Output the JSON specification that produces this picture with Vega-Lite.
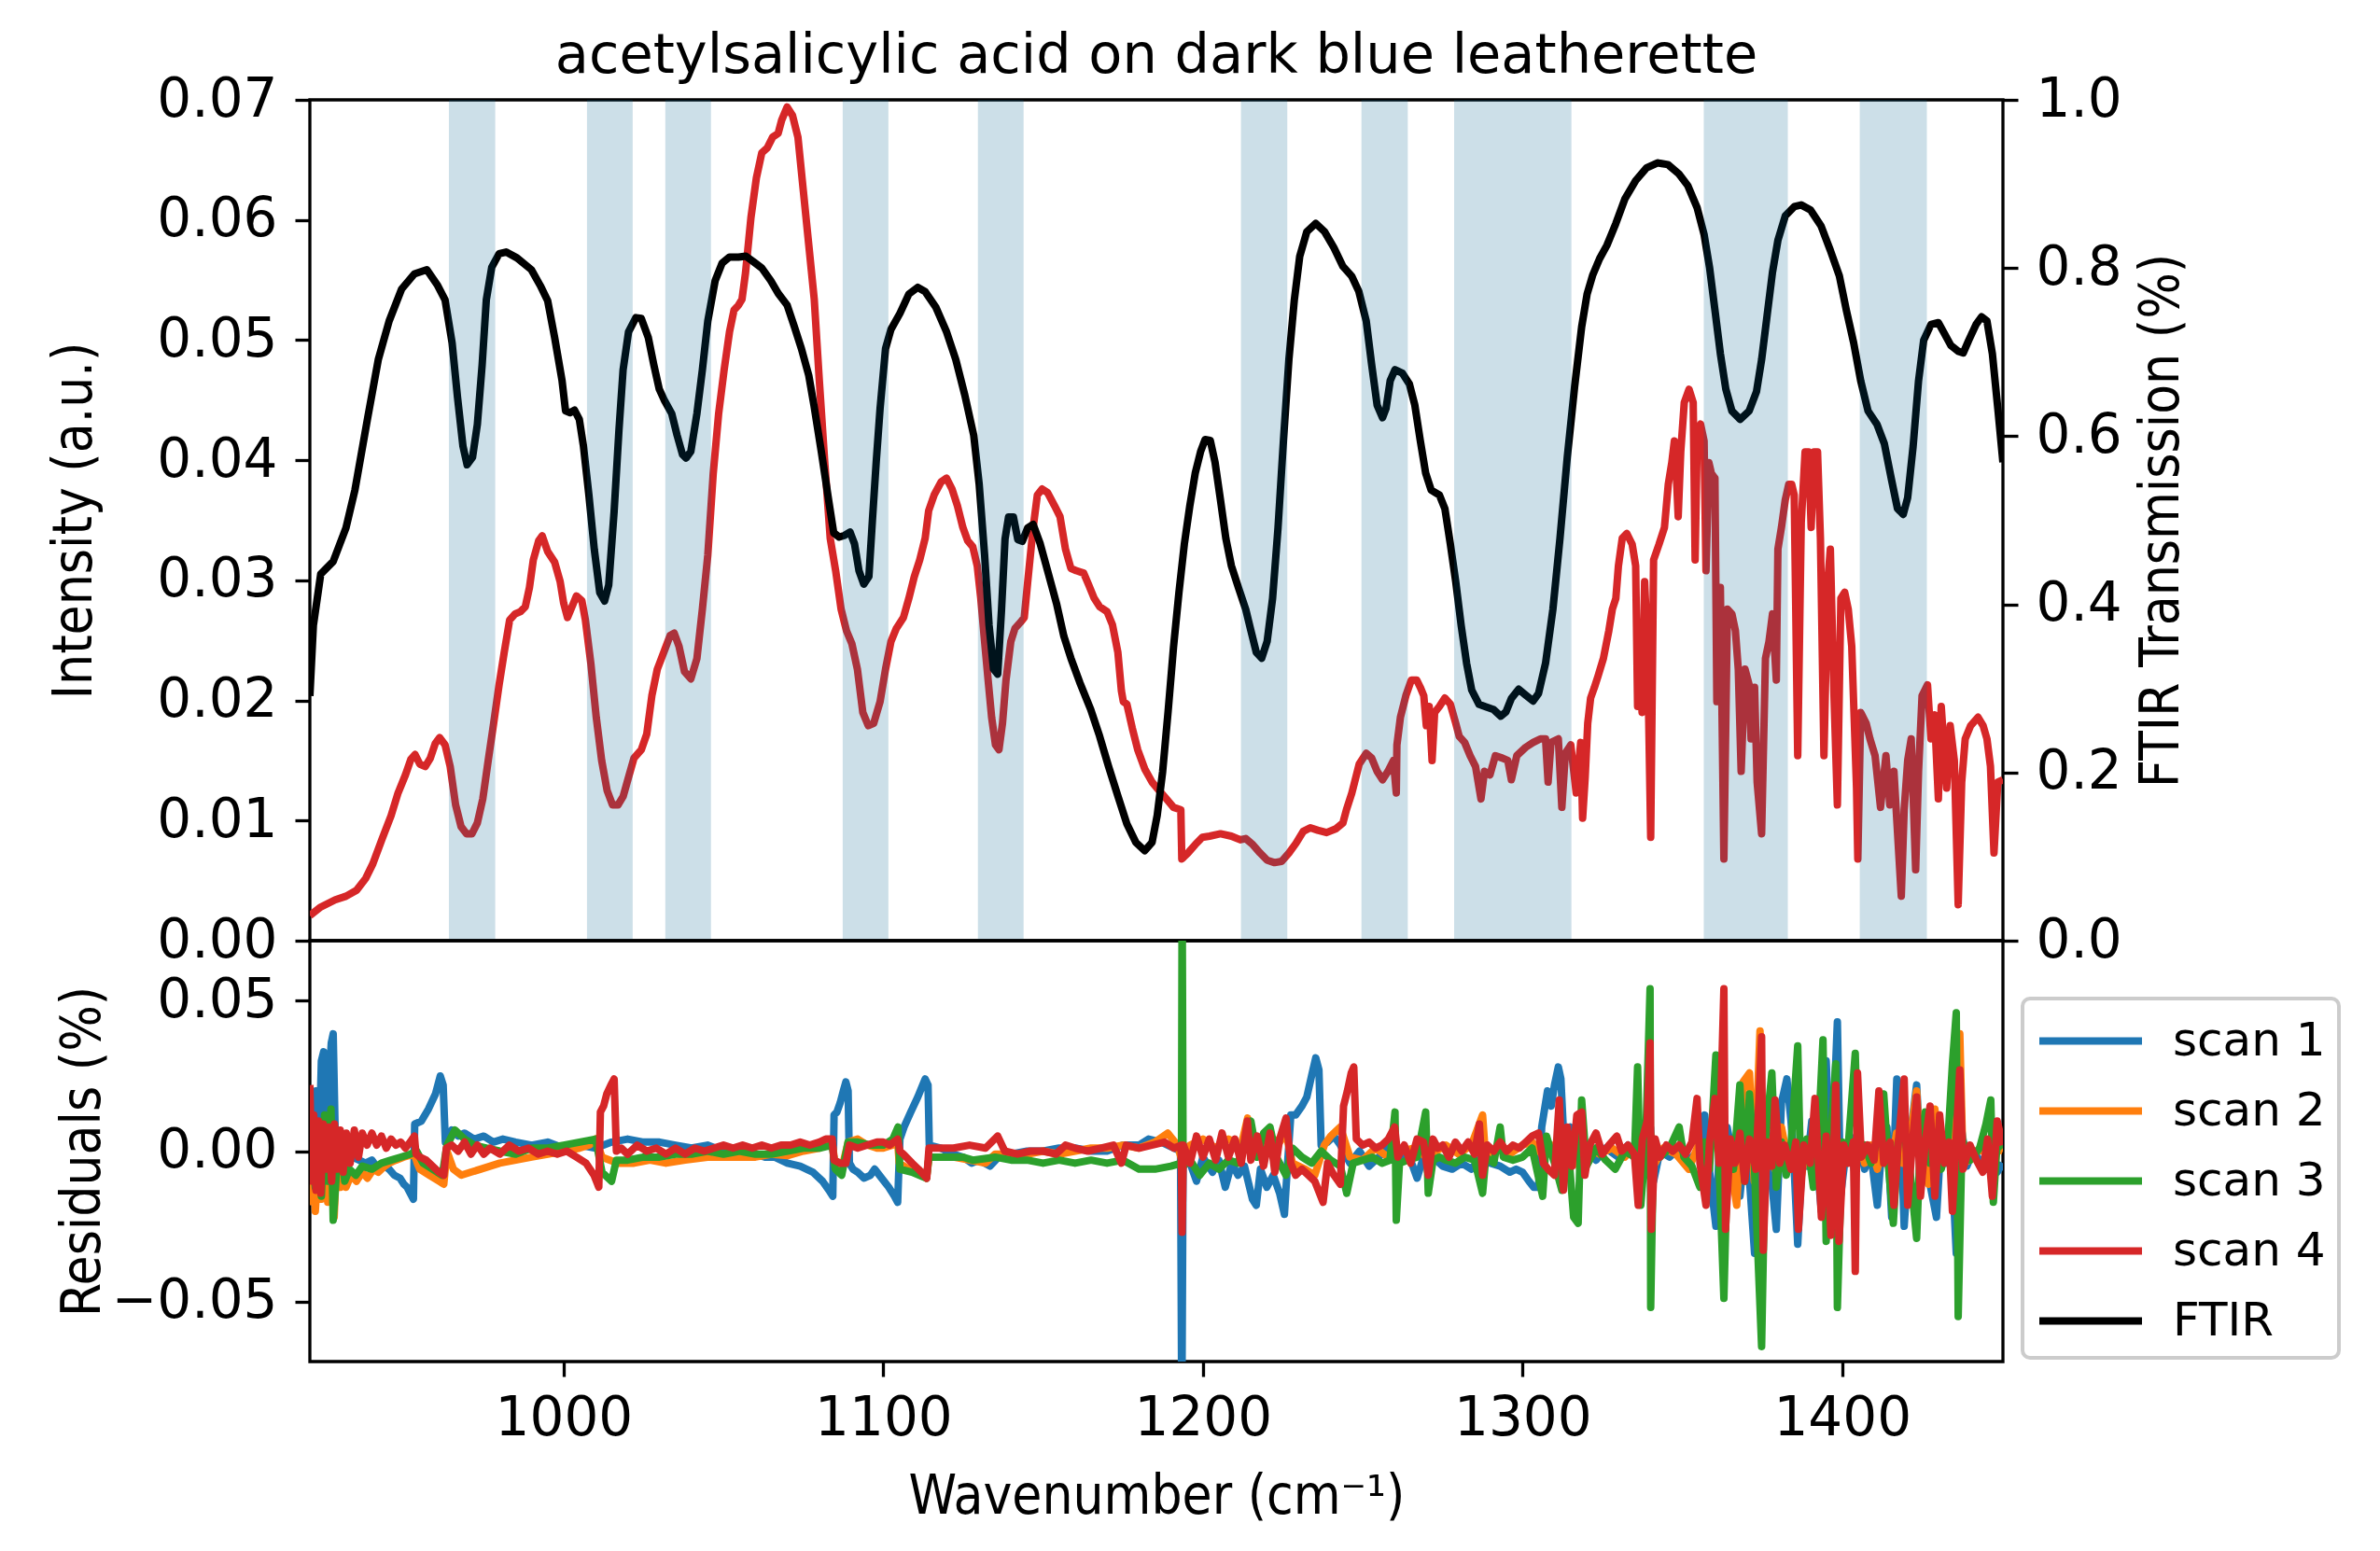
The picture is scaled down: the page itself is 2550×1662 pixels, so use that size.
{
"$schema":"https://vega.github.io/schema/vega-lite/v6.json",
"background":"white",
"padding":{"left":50,"top":29,"right":5,"bottom":5},
"bounds":"flush",
"spacing":0,
"config":{
 "font":"DejaVu Sans",
 "view":{"stroke":"black","strokeWidth":3.3},
 "axis":{"domain":false,"grid":false,"ticks":true,"tickSize":16,"tickWidth":3.3,"tickColor":"black","labelFont":"DejaVu Sans","labelFontSize":58,"labelColor":"black","labelPadding":19,"titleFont":"DejaVu Sans Condensed, DejaVu Sans","titleFontSize":58,"titleFontWeight":"normal","titleColor":"black","labelOverlap":false},
 "axisBottom":{"labelPadding":16,"titlePadding":26},
 "legend":{"strokeWidth":4},
 "line":{"strokeJoin":"round"}
},
"datasets":{
"bands":[{"a":964.1,"b":978.6},{"a":1007.3,"b":1021.6},{"a":1031.8,"b":1046.1},{"a":1087.3,"b":1101.6},{"a":1129.6,"b":1143.9},{"a":1211.9,"b":1226.4},{"a":1249.6,"b":1264.1},{"a":1278.6,"b":1315.3},{"a":1356.7,"b":1383.0},{"a":1405.5,"b":1426.5}],
"ftir":[{"w":920.6,"t":0.291},{"w":921.7,"t":0.375},{"w":924.0,"t":0.436},{"w":927.9,"t":0.451},{"w":931.9,"t":0.491},{"w":934.7,"t":0.536},{"w":938.6,"t":0.62},{"w":942.0,"t":0.691},{"w":945.4,"t":0.737},{"w":949.3,"t":0.775},{"w":953.3,"t":0.793},{"w":957.2,"t":0.798},{"w":960.6,"t":0.779},{"w":962.9,"t":0.762},{"w":965.1,"t":0.711},{"w":966.8,"t":0.646},{"w":968.5,"t":0.588},{"w":969.8,"t":0.566},{"w":971.5,"t":0.575},{"w":973.0,"t":0.614},{"w":974.5,"t":0.685},{"w":975.8,"t":0.762},{"w":977.5,"t":0.801},{"w":979.8,"t":0.817},{"w":982.0,"t":0.819},{"w":985.4,"t":0.812},{"w":989.9,"t":0.798},{"w":992.7,"t":0.779},{"w":995.0,"t":0.761},{"w":997.2,"t":0.717},{"w":999.5,"t":0.666},{"w":1000.6,"t":0.63},{"w":1002.0,"t":0.628},{"w":1003.4,"t":0.631},{"w":1004.9,"t":0.62},{"w":1006.2,"t":0.588},{"w":1007.9,"t":0.53},{"w":1009.6,"t":0.465},{"w":1011.3,"t":0.414},{"w":1012.8,"t":0.404},{"w":1014.1,"t":0.423},{"w":1015.8,"t":0.511},{"w":1017.3,"t":0.607},{"w":1018.6,"t":0.679},{"w":1020.3,"t":0.724},{"w":1022.6,"t":0.741},{"w":1024.3,"t":0.74},{"w":1026.5,"t":0.717},{"w":1028.2,"t":0.685},{"w":1029.9,"t":0.656},{"w":1031.6,"t":0.642},{"w":1033.8,"t":0.627},{"w":1035.5,"t":0.601},{"w":1037.2,"t":0.578},{"w":1038.3,"t":0.574},{"w":1039.8,"t":0.582},{"w":1041.7,"t":0.627},{"w":1043.4,"t":0.679},{"w":1045.1,"t":0.737},{"w":1047.4,"t":0.785},{"w":1049.6,"t":0.806},{"w":1051.9,"t":0.813},{"w":1054.7,"t":0.813},{"w":1057.0,"t":0.814},{"w":1059.2,"t":0.808},{"w":1062.0,"t":0.8},{"w":1064.8,"t":0.785},{"w":1067.1,"t":0.77},{"w":1069.9,"t":0.756},{"w":1072.2,"t":0.73},{"w":1074.4,"t":0.704},{"w":1076.7,"t":0.672},{"w":1078.3,"t":0.637},{"w":1080.6,"t":0.582},{"w":1082.9,"t":0.524},{"w":1084.5,"t":0.485},{"w":1086.2,"t":0.48},{"w":1087.9,"t":0.482},{"w":1089.6,"t":0.486},{"w":1091.0,"t":0.472},{"w":1092.4,"t":0.44},{"w":1093.9,"t":0.424},{"w":1095.5,"t":0.433},{"w":1096.6,"t":0.5},{"w":1097.8,"t":0.57},{"w":1099.0,"t":0.633},{"w":1100.7,"t":0.704},{"w":1102.4,"t":0.727},{"w":1105.2,"t":0.746},{"w":1108.0,"t":0.769},{"w":1110.8,"t":0.777},{"w":1113.1,"t":0.772},{"w":1116.5,"t":0.753},{"w":1119.8,"t":0.724},{"w":1122.7,"t":0.691},{"w":1125.5,"t":0.649},{"w":1128.3,"t":0.601},{"w":1130.0,"t":0.543},{"w":1131.7,"t":0.459},{"w":1133.1,"t":0.375},{"w":1134.5,"t":0.323},{"w":1135.8,"t":0.317},{"w":1137.0,"t":0.394},{"w":1138.1,"t":0.478},{"w":1139.2,"t":0.504},{"w":1140.7,"t":0.504},{"w":1142.1,"t":0.477},{"w":1143.5,"t":0.475},{"w":1145.2,"t":0.491},{"w":1146.9,"t":0.495},{"w":1149.1,"t":0.472},{"w":1151.4,"t":0.44},{"w":1154.2,"t":0.401},{"w":1156.5,"t":0.362},{"w":1158.7,"t":0.336},{"w":1161.5,"t":0.307},{"w":1164.9,"t":0.275},{"w":1167.7,"t":0.243},{"w":1170.5,"t":0.207},{"w":1173.4,"t":0.172},{"w":1176.2,"t":0.139},{"w":1179.0,"t":0.117},{"w":1181.8,"t":0.107},{"w":1184.1,"t":0.117},{"w":1185.7,"t":0.149},{"w":1187.4,"t":0.201},{"w":1189.1,"t":0.272},{"w":1190.8,"t":0.349},{"w":1192.5,"t":0.414},{"w":1194.2,"t":0.472},{"w":1195.9,"t":0.517},{"w":1197.6,"t":0.556},{"w":1199.3,"t":0.582},{"w":1200.7,"t":0.596},{"w":1202.3,"t":0.595},{"w":1203.8,"t":0.569},{"w":1205.5,"t":0.524},{"w":1207.2,"t":0.478},{"w":1208.9,"t":0.446},{"w":1211.1,"t":0.42},{"w":1213.4,"t":0.394},{"w":1215.0,"t":0.369},{"w":1216.7,"t":0.343},{"w":1218.4,"t":0.336},{"w":1220.1,"t":0.356},{"w":1221.8,"t":0.407},{"w":1223.5,"t":0.491},{"w":1225.2,"t":0.595},{"w":1226.9,"t":0.691},{"w":1228.6,"t":0.762},{"w":1230.3,"t":0.814},{"w":1232.5,"t":0.843},{"w":1235.3,"t":0.853},{"w":1238.1,"t":0.843},{"w":1241.0,"t":0.824},{"w":1243.8,"t":0.802},{"w":1246.6,"t":0.79},{"w":1248.8,"t":0.772},{"w":1251.1,"t":0.737},{"w":1252.8,"t":0.685},{"w":1254.5,"t":0.637},{"w":1256.2,"t":0.622},{"w":1257.3,"t":0.633},{"w":1258.6,"t":0.666},{"w":1260.1,"t":0.679},{"w":1262.4,"t":0.675},{"w":1264.6,"t":0.662},{"w":1266.3,"t":0.637},{"w":1268.0,"t":0.595},{"w":1269.7,"t":0.556},{"w":1271.4,"t":0.536},{"w":1274.0,"t":0.53},{"w":1275.7,"t":0.514},{"w":1277.4,"t":0.472},{"w":1279.1,"t":0.427},{"w":1280.8,"t":0.375},{"w":1282.5,"t":0.33},{"w":1284.1,"t":0.298},{"w":1286.4,"t":0.281},{"w":1288.6,"t":0.278},{"w":1290.9,"t":0.275},{"w":1293.2,"t":0.267},{"w":1294.8,"t":0.272},{"w":1296.5,"t":0.288},{"w":1298.8,"t":0.299},{"w":1301.0,"t":0.292},{"w":1303.3,"t":0.285},{"w":1305.0,"t":0.294},{"w":1307.2,"t":0.33},{"w":1309.5,"t":0.394},{"w":1311.7,"t":0.478},{"w":1314.0,"t":0.575},{"w":1316.3,"t":0.659},{"w":1318.5,"t":0.73},{"w":1320.2,"t":0.769},{"w":1321.9,"t":0.791},{"w":1324.1,"t":0.811},{"w":1326.4,"t":0.827},{"w":1329.2,"t":0.853},{"w":1332.0,"t":0.882},{"w":1335.4,"t":0.904},{"w":1338.8,"t":0.919},{"w":1342.2,"t":0.925},{"w":1345.5,"t":0.923},{"w":1348.9,"t":0.912},{"w":1351.7,"t":0.898},{"w":1354.6,"t":0.872},{"w":1356.8,"t":0.84},{"w":1358.5,"t":0.801},{"w":1360.2,"t":0.75},{"w":1361.9,"t":0.698},{"w":1363.6,"t":0.656},{"w":1365.5,"t":0.63},{"w":1368.1,"t":0.62},{"w":1370.9,"t":0.63},{"w":1373.2,"t":0.653},{"w":1374.8,"t":0.691},{"w":1376.5,"t":0.743},{"w":1378.2,"t":0.795},{"w":1379.9,"t":0.833},{"w":1382.2,"t":0.862},{"w":1385.0,"t":0.873},{"w":1387.2,"t":0.875},{"w":1390.1,"t":0.869},{"w":1393.4,"t":0.85},{"w":1396.3,"t":0.821},{"w":1399.1,"t":0.791},{"w":1401.3,"t":0.75},{"w":1403.6,"t":0.711},{"w":1405.8,"t":0.666},{"w":1408.1,"t":0.63},{"w":1410.9,"t":0.614},{"w":1413.2,"t":0.591},{"w":1415.4,"t":0.549},{"w":1417.3,"t":0.514},{"w":1419.1,"t":0.507},{"w":1420.5,"t":0.527},{"w":1422.2,"t":0.588},{"w":1423.9,"t":0.666},{"w":1425.5,"t":0.714},{"w":1427.8,"t":0.733},{"w":1430.1,"t":0.735},{"w":1431.7,"t":0.724},{"w":1434.0,"t":0.708},{"w":1436.3,"t":0.701},{"w":1437.9,"t":0.699},{"w":1439.6,"t":0.714},{"w":1441.9,"t":0.733},{"w":1443.6,"t":0.742},{"w":1445.3,"t":0.737},{"w":1447.0,"t":0.698},{"w":1448.7,"t":0.633},{"w":1450.3,"t":0.569}],
"scan":[{"w":920.6,"i":0.0021},{"w":924.0,"i":0.0028},{"w":928.5,"i":0.0034},{"w":931.9,"i":0.0037},{"w":935.2,"i":0.0042},{"w":938.1,"i":0.0052},{"w":940.3,"i":0.0064},{"w":943.1,"i":0.0084},{"w":946.0,"i":0.0104},{"w":948.2,"i":0.0123},{"w":950.5,"i":0.0138},{"w":952.2,"i":0.0151},{"w":953.5,"i":0.0155},{"w":955.0,"i":0.0147},{"w":956.7,"i":0.0145},{"w":958.3,"i":0.0152},{"w":959.8,"i":0.0164},{"w":961.2,"i":0.0169},{"w":962.9,"i":0.0163},{"w":964.5,"i":0.0145},{"w":966.2,"i":0.0113},{"w":967.9,"i":0.0095},{"w":969.6,"i":0.0089},{"w":971.3,"i":0.0089},{"w":973.0,"i":0.0098},{"w":974.7,"i":0.0118},{"w":976.4,"i":0.015},{"w":978.1,"i":0.0181},{"w":979.8,"i":0.0213},{"w":981.4,"i":0.024},{"w":983.1,"i":0.0267},{"w":984.8,"i":0.0272},{"w":986.5,"i":0.0274},{"w":988.0,"i":0.0278},{"w":989.3,"i":0.0294},{"w":990.5,"i":0.0317},{"w":992.2,"i":0.0333},{"w":993.3,"i":0.0337},{"w":995.0,"i":0.0324},{"w":997.2,"i":0.0315},{"w":998.9,"i":0.0299},{"w":1000.0,"i":0.0281},{"w":1001.2,"i":0.0269},{"w":1002.3,"i":0.0276},{"w":1004.0,"i":0.0287},{"w":1005.7,"i":0.0283},{"w":1006.8,"i":0.0267},{"w":1008.5,"i":0.0231},{"w":1010.2,"i":0.0186},{"w":1011.9,"i":0.015},{"w":1013.6,"i":0.0125},{"w":1015.3,"i":0.0113},{"w":1017.0,"i":0.0113},{"w":1018.6,"i":0.012},{"w":1020.3,"i":0.0136},{"w":1022.0,"i":0.0152},{"w":1024.3,"i":0.0159},{"w":1026.0,"i":0.0172},{"w":1027.6,"i":0.0204},{"w":1029.3,"i":0.0226},{"w":1031.6,"i":0.0242},{"w":1033.3,"i":0.0254},{"w":1034.6,"i":0.0256},{"w":1036.1,"i":0.0245},{"w":1037.8,"i":0.0224},{"w":1039.8,"i":0.0218},{"w":1041.7,"i":0.0235},{"w":1043.4,"i":0.0276},{"w":1045.1,"i":0.0321},{"w":1046.8,"i":0.0389},{"w":1048.5,"i":0.0439},{"w":1050.2,"i":0.0475},{"w":1051.9,"i":0.0507},{"w":1053.3,"i":0.0525},{"w":1054.7,"i":0.0529},{"w":1055.8,"i":0.0534},{"w":1056.9,"i":0.0556},{"w":1058.6,"i":0.0602},{"w":1060.3,"i":0.0635},{"w":1062.0,"i":0.0656},{"w":1063.7,"i":0.066},{"w":1065.4,"i":0.0669},{"w":1067.1,"i":0.0672},{"w":1068.2,"i":0.0683},{"w":1069.9,"i":0.0694},{"w":1071.6,"i":0.0687},{"w":1073.3,"i":0.0669},{"w":1075.0,"i":0.0624},{"w":1076.7,"i":0.0579},{"w":1078.4,"i":0.0534},{"w":1080.0,"i":0.0466},{"w":1081.7,"i":0.0398},{"w":1083.4,"i":0.0335},{"w":1085.1,"i":0.0308},{"w":1086.8,"i":0.0276},{"w":1088.5,"i":0.0258},{"w":1090.2,"i":0.0247},{"w":1091.9,"i":0.0226},{"w":1093.6,"i":0.019},{"w":1095.3,"i":0.0179},{"w":1097.0,"i":0.0181},{"w":1099.0,"i":0.0199},{"w":1100.7,"i":0.0226},{"w":1102.4,"i":0.0249},{"w":1104.1,"i":0.026},{"w":1106.3,"i":0.0269},{"w":1108.0,"i":0.0285},{"w":1109.7,"i":0.0303},{"w":1111.4,"i":0.0317},{"w":1113.1,"i":0.0335},{"w":1114.2,"i":0.0358},{"w":1115.9,"i":0.0371},{"w":1118.1,"i":0.0382},{"w":1119.8,"i":0.0385},{"w":1121.5,"i":0.0376},{"w":1123.2,"i":0.0362},{"w":1124.9,"i":0.0344},{"w":1126.4,"i":0.0333},{"w":1128.0,"i":0.0328},{"w":1129.4,"i":0.0312},{"w":1130.5,"i":0.0285},{"w":1131.7,"i":0.0249},{"w":1132.8,"i":0.0217},{"w":1133.9,"i":0.0186},{"w":1135.1,"i":0.0163},{"w":1136.2,"i":0.0159},{"w":1137.3,"i":0.0181},{"w":1138.4,"i":0.0217},{"w":1139.9,"i":0.0249},{"w":1141.2,"i":0.026},{"w":1142.9,"i":0.0265},{"w":1144.1,"i":0.0269},{"w":1145.2,"i":0.0299},{"w":1146.9,"i":0.0344},{"w":1148.2,"i":0.0371},{"w":1149.7,"i":0.0376},{"w":1151.4,"i":0.0373},{"w":1153.6,"i":0.0362},{"w":1155.3,"i":0.0353},{"w":1157.0,"i":0.0326},{"w":1158.7,"i":0.031},{"w":1160.4,"i":0.0308},{"w":1162.7,"i":0.0306},{"w":1164.3,"i":0.0296},{"w":1166.0,"i":0.0285},{"w":1167.7,"i":0.0278},{"w":1170.0,"i":0.0274},{"w":1171.7,"i":0.0263},{"w":1173.4,"i":0.024},{"w":1174.5,"i":0.0208},{"w":1175.1,"i":0.0199},{"w":1176.2,"i":0.0197},{"w":1177.9,"i":0.0177},{"w":1179.6,"i":0.0159},{"w":1181.8,"i":0.0143},{"w":1184.1,"i":0.0132},{"w":1186.3,"i":0.0125},{"w":1188.6,"i":0.0118},{"w":1190.8,"i":0.0111},{"w":1193.1,"i":0.0109},{"w":1193.4,"i":0.0068},{"w":1195.3,"i":0.0073},{"w":1197.6,"i":0.008},{"w":1199.8,"i":0.0086},{"w":1202.1,"i":0.0087},{"w":1205.5,"i":0.0089},{"w":1208.9,"i":0.0087},{"w":1211.7,"i":0.0084},{"w":1213.4,"i":0.0085},{"w":1215.6,"i":0.008},{"w":1217.9,"i":0.0073},{"w":1220.1,"i":0.0067},{"w":1222.4,"i":0.0065},{"w":1224.6,"i":0.0066},{"w":1226.9,"i":0.0073},{"w":1229.1,"i":0.0081},{"w":1231.4,"i":0.0091},{"w":1233.6,"i":0.0094},{"w":1235.9,"i":0.0092},{"w":1238.7,"i":0.009},{"w":1241.5,"i":0.0093},{"w":1243.8,"i":0.0098},{"w":1244.9,"i":0.0109},{"w":1246.6,"i":0.0123},{"w":1248.9,"i":0.0147},{"w":1251.1,"i":0.0156},{"w":1252.8,"i":0.0152},{"w":1254.5,"i":0.0141},{"w":1256.2,"i":0.0134},{"w":1257.9,"i":0.0141},{"w":1259.6,"i":0.015},{"w":1260.5,"i":0.0123},{"w":1260.7,"i":0.0163},{"w":1261.8,"i":0.0186},{"w":1263.5,"i":0.0204},{"w":1265.2,"i":0.0217},{"w":1266.9,"i":0.0217},{"w":1268.0,"i":0.0211},{"w":1269.1,"i":0.0204},{"w":1269.9,"i":0.0179},{"w":1270.8,"i":0.0195},{"w":1271.7,"i":0.015},{"w":1272.5,"i":0.019},{"w":1274.0,"i":0.0195},{"w":1275.7,"i":0.0202},{"w":1277.4,"i":0.0197},{"w":1279.1,"i":0.0181},{"w":1280.2,"i":0.017},{"w":1281.9,"i":0.0165},{"w":1283.6,"i":0.0154},{"w":1285.3,"i":0.0145},{"w":1287.0,"i":0.0118},{"w":1288.1,"i":0.0141},{"w":1289.8,"i":0.0138},{"w":1291.5,"i":0.0154},{"w":1293.7,"i":0.0152},{"w":1295.4,"i":0.015},{"w":1296.5,"i":0.0134},{"w":1298.2,"i":0.0154},{"w":1301.0,"i":0.0161},{"w":1303.3,"i":0.0165},{"w":1305.6,"i":0.0168},{"w":1307.2,"i":0.0168},{"w":1308.0,"i":0.0132},{"w":1308.9,"i":0.0165},{"w":1311.2,"i":0.0168},{"w":1312.3,"i":0.0111},{"w":1313.4,"i":0.0156},{"w":1315.1,"i":0.0163},{"w":1316.8,"i":0.0123},{"w":1318.2,"i":0.0165},{"w":1318.8,"i":0.0102},{"w":1319.6,"i":0.0136},{"w":1320.4,"i":0.0181},{"w":1321.3,"i":0.0202},{"w":1322.5,"i":0.0211},{"w":1323.6,"i":0.022},{"w":1325.3,"i":0.0235},{"w":1327.0,"i":0.0258},{"w":1328.1,"i":0.0276},{"w":1329.2,"i":0.0285},{"w":1330.0,"i":0.0312},{"w":1331.2,"i":0.0335},{"w":1332.6,"i":0.0339},{"w":1334.3,"i":0.033},{"w":1335.4,"i":0.0312},{"w":1336.0,"i":0.0195},{"w":1336.8,"i":0.0226},{"w":1337.4,"i":0.019},{"w":1338.2,"i":0.0299},{"w":1339.1,"i":0.0245},{"w":1340.1,"i":0.0086},{"w":1341.0,"i":0.0317},{"w":1342.7,"i":0.033},{"w":1344.4,"i":0.0344},{"w":1345.6,"i":0.038},{"w":1346.7,"i":0.0398},{"w":1347.5,"i":0.0416},{"w":1348.1,"i":0.0389},{"w":1348.7,"i":0.0353},{"w":1349.5,"i":0.0407},{"w":1350.6,"i":0.0448},{"w":1352.1,"i":0.0459},{"w":1353.4,"i":0.0448},{"w":1354.0,"i":0.0317},{"w":1354.7,"i":0.0425},{"w":1355.7,"i":0.043},{"w":1356.8,"i":0.0416},{"w":1357.4,"i":0.0308},{"w":1358.3,"i":0.0398},{"w":1359.1,"i":0.0389},{"w":1360.2,"i":0.0385},{"w":1360.8,"i":0.0199},{"w":1361.9,"i":0.0294},{"w":1363.0,"i":0.0068},{"w":1364.1,"i":0.0276},{"w":1365.5,"i":0.0272},{"w":1366.6,"i":0.0258},{"w":1367.5,"i":0.0226},{"w":1368.4,"i":0.0141},{"w":1369.6,"i":0.0226},{"w":1370.9,"i":0.0213},{"w":1371.5,"i":0.0168},{"w":1372.6,"i":0.0211},{"w":1373.4,"i":0.0132},{"w":1374.8,"i":0.0089},{"w":1376.0,"i":0.0235},{"w":1377.1,"i":0.0249},{"w":1378.2,"i":0.0272},{"w":1379.4,"i":0.0217},{"w":1379.9,"i":0.0326},{"w":1381.0,"i":0.0344},{"w":1382.2,"i":0.0367},{"w":1383.3,"i":0.038},{"w":1384.2,"i":0.038},{"w":1385.0,"i":0.0371},{"w":1386.1,"i":0.0154},{"w":1387.2,"i":0.0348},{"w":1388.4,"i":0.0407},{"w":1389.5,"i":0.0407},{"w":1390.3,"i":0.0344},{"w":1391.2,"i":0.0407},{"w":1392.3,"i":0.0407},{"w":1393.2,"i":0.0335},{"w":1394.3,"i":0.0154},{"w":1395.5,"i":0.0299},{"w":1396.3,"i":0.0326},{"w":1397.4,"i":0.0208},{"w":1398.5,"i":0.0113},{"w":1399.6,"i":0.0285},{"w":1400.8,"i":0.029},{"w":1401.9,"i":0.0276},{"w":1403.0,"i":0.0245},{"w":1404.5,"i":0.0127},{"w":1404.9,"i":0.0068},{"w":1405.8,"i":0.019},{"w":1407.5,"i":0.0181},{"w":1408.7,"i":0.0168},{"w":1410.3,"i":0.0154},{"w":1412.0,"i":0.0111},{"w":1413.7,"i":0.0154},{"w":1414.9,"i":0.0113},{"w":1416.2,"i":0.0141},{"w":1417.3,"i":0.0091},{"w":1418.5,"i":0.0037},{"w":1419.4,"i":0.0109},{"w":1420.5,"i":0.015},{"w":1421.6,"i":0.0168},{"w":1423.0,"i":0.0059},{"w":1423.9,"i":0.0141},{"w":1425.0,"i":0.0204},{"w":1426.7,"i":0.0213},{"w":1427.8,"i":0.0168},{"w":1428.9,"i":0.0188},{"w":1430.1,"i":0.0118},{"w":1431.0,"i":0.0195},{"w":1432.7,"i":0.0127},{"w":1433.8,"i":0.0179},{"w":1435.1,"i":0.015},{"w":1436.3,"i":0.003},{"w":1437.4,"i":0.0132},{"w":1438.5,"i":0.0168},{"w":1440.2,"i":0.0179},{"w":1442.5,"i":0.0186},{"w":1444.1,"i":0.0179},{"w":1445.3,"i":0.0168},{"w":1446.4,"i":0.0145},{"w":1447.5,"i":0.0073},{"w":1448.7,"i":0.0132},{"w":1450.3,"i":0.0134}],
"r1":[{"w":920.6,"r":0.01},{"w":921.5,"r":-0.012},{"w":922.5,"r":0.02},{"w":923.3,"r":-0.008},{"w":924.2,"r":0.03},{"w":924.9,"r":0.033},{"w":925.6,"r":0.005},{"w":926.5,"r":0.022},{"w":927.3,"r":0.036},{"w":927.9,"r":0.039},{"w":928.6,"r":0.002},{"w":929.5,"r":-0.008},{"w":930.5,"r":0.004},{"w":931.5,"r":-0.006},{"w":932.5,"r":0.003},{"w":934,"r":-0.002},{"w":936,"r":-0.003},{"w":938,"r":-0.004},{"w":940,"r":-0.003},{"w":942,"r":-0.006},{"w":944,"r":-0.005},{"w":945.4,"r":-0.006},{"w":947,"r":-0.008},{"w":948.8,"r":-0.009},{"w":950,"r":-0.011},{"w":951,"r":-0.012},{"w":952,"r":-0.014},{"w":953.0,"r":-0.016},{"w":953.4,"r":0.009},{"w":955.5,"r":0.01},{"w":957.7,"r":0.014},{"w":959.9,"r":0.019},{"w":961.4,"r":0.025},{"w":962.3,"r":0.022},{"w":963.0,"r":0.003},{"w":965,"r":0.007},{"w":967,"r":0.005},{"w":969,"r":0.006},{"w":972,"r":0.004},{"w":975,"r":0.005},{"w":978,"r":0.003},{"w":981,"r":0.004},{"w":985,"r":0.003},{"w":990,"r":0.002},{"w":995,"r":0.003},{"w":1000,"r":0.001},{"w":1005,"r":0.002},{"w":1010,"r":0.001},{"w":1015,"r":0.003},{"w":1020,"r":0.004},{"w":1025,"r":0.003},{"w":1030,"r":0.003},{"w":1035,"r":0.002},{"w":1040,"r":0.001},{"w":1045,"r":0.002},{"w":1050,"r":0},{"w":1055,"r":0.001},{"w":1060,"r":-0.001},{"w":1063,"r":-0.002},{"w":1066,"r":-0.002},{"w":1070,"r":-0.004},{"w":1074,"r":-0.005},{"w":1078,"r":-0.007},{"w":1081,"r":-0.01},{"w":1083,"r":-0.013},{"w":1084.2,"r":-0.015},{"w":1084.6,"r":0.012},{"w":1085.5,"r":0.013},{"w":1086.5,"r":0.016},{"w":1087.5,"r":0.02},{"w":1088.3,"r":0.023},{"w":1089,"r":0.02},{"w":1089.4,"r":-0.004},{"w":1090.5,"r":-0.006},{"w":1092,"r":-0.007},{"w":1094,"r":-0.009},{"w":1096,"r":-0.008},{"w":1097.3,"r":-0.006},{"w":1099.5,"r":-0.009},{"w":1101.7,"r":-0.012},{"w":1103.5,"r":-0.015},{"w":1104.5,"r":-0.017},{"w":1105.2,"r":0.004},{"w":1106.5,"r":0.008},{"w":1108.6,"r":0.013},{"w":1110.8,"r":0.018},{"w":1113.1,"r":0.024},{"w":1114.0,"r":0.022},{"w":1114.4,"r":0.002},{"w":1118,"r":0.001},{"w":1122,"r":-0.001},{"w":1125,"r":-0.002},{"w":1127.7,"r":-0.004},{"w":1130,"r":-0.003},{"w":1133.4,"r":-0.005},{"w":1136,"r":-0.002},{"w":1140,"r":-0.001},{"w":1145,"r":0},{"w":1150,"r":0},{"w":1155,"r":0.001},{"w":1160,"r":0.001},{"w":1165,"r":0},{"w":1170,"r":0},{"w":1175,"r":0.002},{"w":1180,"r":0.002},{"w":1183,"r":0.004},{"w":1187,"r":0.003},{"w":1191,"r":0.001},{"w":1193.0,"r":0},{"w":1193.4,"r":-0.09},{"w":1193.8,"r":-0.002},{"w":1196,"r":-0.004},{"w":1198,"r":-0.01},{"w":1200,"r":-0.002},{"w":1203,"r":-0.007},{"w":1205,"r":-0.003},{"w":1207,"r":-0.012},{"w":1209,"r":-0.004},{"w":1211,"r":-0.008},{"w":1213,"r":-0.005},{"w":1215.5,"r":-0.016},{"w":1216.7,"r":-0.018},{"w":1218,"r":-0.006},{"w":1220,"r":-0.012},{"w":1222,"r":-0.008},{"w":1224,"r":-0.014},{"w":1225.5,"r":-0.021},{"w":1226.5,"r":-0.004},{"w":1227.5,"r":0.012},{"w":1229,"r":0.012},{"w":1231,"r":0.015},{"w":1232.5,"r":0.018},{"w":1234,"r":0.025},{"w":1235.3,"r":0.031},{"w":1236.3,"r":0.027},{"w":1237,"r":0.002},{"w":1239,"r":0.003},{"w":1241,"r":0.005},{"w":1243,"r":0.002},{"w":1246,"r":-0.004},{"w":1249,"r":0},{"w":1252,"r":-0.005},{"w":1255,"r":-0.002},{"w":1258,"r":0.001},{"w":1261,"r":-0.003},{"w":1264,"r":0},{"w":1267,"r":-0.009},{"w":1269,"r":-0.002},{"w":1271,"r":-0.004},{"w":1273,"r":-0.003},{"w":1275,"r":-0.005},{"w":1278,"r":-0.006},{"w":1281,"r":-0.004},{"w":1284,"r":-0.006},{"w":1287,"r":-0.002},{"w":1290,"r":-0.004},{"w":1293,"r":-0.005},{"w":1296,"r":-0.007},{"w":1298,"r":-0.006},{"w":1300,"r":-0.007},{"w":1302,"r":-0.01},{"w":1303.5,"r":-0.012},{"w":1305,"r":-0.012},{"w":1306,"r":0.008},{"w":1307.8,"r":0.02},{"w":1309,"r":0.015},{"w":1310,"r":0.022},{"w":1311.2,"r":0.028},{"w":1312,"r":0.024},{"w":1313,"r":0.002},{"w":1315,"r":0.008},{"w":1317,"r":-0.004},{"w":1320,"r":0.001},{"w":1323,"r":-0.003},{"w":1326,"r":0.001},{"w":1330,"r":-0.002},{"w":1333,"r":0.002},{"w":1336,"r":-0.004},{"w":1338,"r":0.003},{"w":1340,"r":0.008},{"w":1341,"r":-0.01},{"w":1343,"r":0},{"w":1346,"r":-0.002},{"w":1349,"r":0.001},{"w":1352,"r":-0.003},{"w":1355,"r":0},{"w":1357,"r":0.012},{"w":1358,"r":-0.002},{"w":1360.5,"r":-0.025},{"w":1361.5,"r":0},{"w":1364,"r":0.008},{"w":1366,"r":-0.003},{"w":1368,"r":-0.015},{"w":1370,"r":0.006},{"w":1372.6,"r":-0.034},{"w":1374,"r":0.004},{"w":1376,"r":0.01},{"w":1377.5,"r":-0.005},{"w":1379.4,"r":-0.026},{"w":1381,"r":0.016},{"w":1382.7,"r":0.024},{"w":1384,"r":0.01},{"w":1385,"r":-0.006},{"w":1386.1,"r":-0.031},{"w":1387.5,"r":-0.002},{"w":1389,"r":-0.005},{"w":1390.5,"r":0.01},{"w":1392,"r":-0.002},{"w":1393.5,"r":-0.02},{"w":1395,"r":0.03},{"w":1396.5,"r":-0.01},{"w":1398.5,"r":0.043},{"w":1399.5,"r":-0.015},{"w":1401,"r":-0.002},{"w":1402.5,"r":0.005},{"w":1404,"r":-0.008},{"w":1405.5,"r":0.002},{"w":1407,"r":-0.006},{"w":1409,"r":-0.001},{"w":1411,"r":-0.018},{"w":1412.5,"r":0.003},{"w":1414,"r":0.008},{"w":1415.5,"r":-0.022},{"w":1417.1,"r":0.024},{"w":1418.5,"r":0.004},{"w":1419.4,"r":-0.025},{"w":1421,"r":0.002},{"w":1423.3,"r":0.022},{"w":1424.5,"r":-0.002},{"w":1426,"r":-0.005},{"w":1427.3,"r":-0.01},{"w":1429.5,"r":-0.022},{"w":1431,"r":0.005},{"w":1432.7,"r":-0.004},{"w":1434,"r":0.004},{"w":1435.7,"r":-0.034},{"w":1437,"r":0.01},{"w":1439,"r":-0.005},{"w":1441,"r":0},{"w":1443,"r":-0.003},{"w":1445,"r":-0.006},{"w":1447,"r":0.002},{"w":1448.5,"r":-0.007},{"w":1450.3,"r":-0.004}],
"r2":[{"w":920.6,"r":-0.018},{"w":921.5,"r":0.005},{"w":922.3,"r":-0.02},{"w":923.2,"r":-0.005},{"w":924.2,"r":-0.016},{"w":925.2,"r":0.002},{"w":926.2,"r":-0.017},{"w":927.2,"r":-0.008},{"w":928.2,"r":-0.022},{"w":929.2,"r":0.003},{"w":930.2,"r":-0.012},{"w":931.2,"r":-0.004},{"w":931.9,"r":-0.012},{"w":933.5,"r":-0.008},{"w":935.2,"r":-0.01},{"w":937,"r":-0.007},{"w":938.6,"r":-0.009},{"w":940.5,"r":-0.006},{"w":942,"r":-0.007},{"w":944,"r":-0.005},{"w":945.4,"r":-0.004},{"w":947.5,"r":-0.003},{"w":949.9,"r":-0.002},{"w":953.3,"r":-0.001},{"w":954.2,"r":-0.004},{"w":955,"r":-0.006},{"w":958,"r":-0.008},{"w":961,"r":-0.01},{"w":962.5,"r":-0.011},{"w":963.5,"r":0},{"w":965.5,"r":-0.006},{"w":968,"r":-0.008},{"w":971,"r":-0.007},{"w":974,"r":-0.006},{"w":977,"r":-0.005},{"w":980,"r":-0.004},{"w":985,"r":-0.003},{"w":990,"r":-0.002},{"w":995,"r":-0.001},{"w":1000,"r":0},{"w":1005,"r":0.001},{"w":1008,"r":0.002},{"w":1010,"r":0.004},{"w":1012,"r":-0.002},{"w":1017,"r":-0.004},{"w":1022,"r":-0.004},{"w":1027,"r":-0.003},{"w":1032,"r":-0.004},{"w":1038,"r":-0.003},{"w":1045,"r":-0.002},{"w":1050,"r":-0.002},{"w":1055,"r":-0.002},{"w":1060,"r":-0.002},{"w":1065,"r":-0.001},{"w":1070,"r":-0.0015},{"w":1075,"r":0},{"w":1080,"r":0.001},{"w":1084,"r":0.003},{"w":1085,"r":-0.005},{"w":1087,"r":-0.006},{"w":1089,"r":0.003},{"w":1092,"r":0.004},{"w":1095,"r":0.002},{"w":1098,"r":0.001},{"w":1100,"r":0.001},{"w":1103,"r":0.002},{"w":1104.5,"r":0.003},{"w":1105,"r":-0.004},{"w":1108,"r":-0.006},{"w":1111,"r":-0.007},{"w":1113.5,"r":-0.009},{"w":1114.3,"r":-0.002},{"w":1118,"r":-0.002},{"w":1122,"r":-0.002},{"w":1127,"r":-0.003},{"w":1132,"r":-0.004},{"w":1135,"r":-0.001},{"w":1140,"r":-0.001},{"w":1145,"r":-0.001},{"w":1150,"r":0},{"w":1155,"r":-0.001},{"w":1160,"r":0},{"w":1165,"r":0.001},{"w":1170,"r":0.001},{"w":1175,"r":0.002},{"w":1180,"r":0.001},{"w":1185,"r":0.003},{"w":1189,"r":0.006},{"w":1192,"r":0.002},{"w":1193.4,"r":-0.003},{"w":1196,"r":0.002},{"w":1200,"r":0.004},{"w":1204,"r":0.001},{"w":1208,"r":0.004},{"w":1212,"r":0.002},{"w":1214,"r":0.011},{"w":1216,"r":0.002},{"w":1220,"r":0.005},{"w":1224,"r":0.003},{"w":1226,"r":0.006},{"w":1228,"r":-0.004},{"w":1232,"r":-0.006},{"w":1235,"r":-0.008},{"w":1238,"r":0.002},{"w":1240,"r":0.005},{"w":1243,"r":0.008},{"w":1246,"r":-0.002},{"w":1250,"r":-0.003},{"w":1254,"r":0.001},{"w":1258,"r":-0.002},{"w":1262,"r":0},{"w":1266,"r":0.001},{"w":1270,"r":-0.002},{"w":1273,"r":0},{"w":1276,"r":0.002},{"w":1280,"r":-0.001},{"w":1284,"r":0.002},{"w":1287.5,"r":0.012},{"w":1288.5,"r":-0.003},{"w":1292,"r":0.001},{"w":1296,"r":-0.001},{"w":1300,"r":0.002},{"w":1303,"r":0.003},{"w":1306,"r":-0.001},{"w":1309,"r":0.002},{"w":1312,"r":-0.004},{"w":1315,"r":0.004},{"w":1318,"r":-0.006},{"w":1320,"r":0.002},{"w":1324,"r":-0.001},{"w":1328,"r":0.001},{"w":1332,"r":-0.002},{"w":1336,"r":0.003},{"w":1338,"r":-0.005},{"w":1340,"r":0.006},{"w":1341.5,"r":-0.004},{"w":1344,"r":0.001},{"w":1348,"r":-0.001},{"w":1352,"r":-0.006},{"w":1355,"r":0.002},{"w":1358,"r":-0.004},{"w":1360.5,"r":0.01},{"w":1362,"r":-0.005},{"w":1364,"r":0.004},{"w":1367,"r":-0.018},{"w":1369,"r":0.023},{"w":1371,"r":0.026},{"w":1372.5,"r":-0.01},{"w":1374.3,"r":0.04},{"w":1375.5,"r":-0.015},{"w":1377,"r":0.004},{"w":1379,"r":-0.006},{"w":1381,"r":0.008},{"w":1383,"r":-0.003},{"w":1385,"r":0.002},{"w":1387,"r":-0.01},{"w":1389,"r":0.003},{"w":1391,"r":-0.002},{"w":1393,"r":0.006},{"w":1395,"r":-0.012},{"w":1397,"r":0.01},{"w":1399,"r":-0.008},{"w":1401,"r":0.002},{"w":1403,"r":-0.003},{"w":1405,"r":0.005},{"w":1407,"r":-0.004},{"w":1409,"r":0.002},{"w":1411,"r":-0.006},{"w":1413,"r":0.004},{"w":1415,"r":-0.008},{"w":1417,"r":0.006},{"w":1419,"r":-0.004},{"w":1421,"r":0.002},{"w":1423.3,"r":0.02},{"w":1424.5,"r":-0.003},{"w":1427,"r":-0.011},{"w":1429,"r":0.014},{"w":1430.5,"r":-0.002},{"w":1433,"r":0.003},{"w":1434.5,"r":-0.005},{"w":1436.8,"r":0.039},{"w":1437.8,"r":-0.004},{"w":1440,"r":-0.003},{"w":1443,"r":0.001},{"w":1446,"r":-0.002},{"w":1448,"r":0.001},{"w":1450.3,"r":0}],
"r3":[{"w":920.6,"r":-0.006},{"w":921.5,"r":0.008},{"w":922.3,"r":-0.012},{"w":923.2,"r":0.004},{"w":924.2,"r":-0.015},{"w":925.2,"r":0.012},{"w":926.2,"r":-0.01},{"w":927.2,"r":0.014},{"w":927.9,"r":-0.023},{"w":929,"r":-0.006},{"w":930.2,"r":0.006},{"w":931.5,"r":-0.01},{"w":933,"r":-0.006},{"w":935,"r":-0.008},{"w":937,"r":-0.005},{"w":940,"r":-0.006},{"w":943,"r":-0.004},{"w":946,"r":-0.003},{"w":949,"r":-0.002},{"w":952,"r":-0.001},{"w":954,"r":0},{"w":956,"r":-0.004},{"w":959,"r":-0.006},{"w":962,"r":-0.008},{"w":963.5,"r":0.002},{"w":966,"r":0.007},{"w":969,"r":0.004},{"w":972,"r":0.002},{"w":976,"r":0.001},{"w":980,"r":0},{"w":985,"r":-0.001},{"w":990,"r":0.001},{"w":995,"r":0.001},{"w":1000,"r":0.002},{"w":1005,"r":0.003},{"w":1010,"r":0.004},{"w":1012,"r":-0.007},{"w":1015,"r":-0.01},{"w":1016.5,"r":-0.003},{"w":1020,"r":-0.003},{"w":1025,"r":-0.002},{"w":1030,"r":-0.002},{"w":1035,"r":-0.001},{"w":1040,"r":-0.001},{"w":1045,"r":0},{"w":1050,"r":-0.001},{"w":1055,"r":0},{"w":1060,"r":-0.001},{"w":1065,"r":-0.001},{"w":1070,"r":0},{"w":1075,"r":0.001},{"w":1080,"r":0.001},{"w":1084,"r":0.002},{"w":1085,"r":-0.006},{"w":1087,"r":-0.008},{"w":1089,"r":0.003},{"w":1092,"r":0.003},{"w":1096,"r":0.002},{"w":1100,"r":0.002},{"w":1103,"r":0.004},{"w":1104.6,"r":0.008},{"w":1105.2,"r":-0.006},{"w":1109,"r":-0.007},{"w":1113.5,"r":-0.009},{"w":1114.3,"r":-0.002},{"w":1120,"r":-0.002},{"w":1125,"r":-0.002},{"w":1128,"r":-0.003},{"w":1135,"r":-0.002},{"w":1140,"r":-0.003},{"w":1145,"r":-0.003},{"w":1150,"r":-0.004},{"w":1155,"r":-0.003},{"w":1160,"r":-0.004},{"w":1165,"r":-0.003},{"w":1170,"r":-0.004},{"w":1175,"r":-0.003},{"w":1180,"r":-0.006},{"w":1185,"r":-0.006},{"w":1190,"r":-0.005},{"w":1193.3,"r":-0.004},{"w":1193.5,"r":0.09},{"w":1193.8,"r":-0.005},{"w":1196,"r":-0.003},{"w":1199,"r":-0.008},{"w":1202,"r":-0.004},{"w":1205,"r":-0.006},{"w":1208,"r":-0.003},{"w":1211,"r":-0.004},{"w":1213,"r":0.003},{"w":1215,"r":0.01},{"w":1217,"r":-0.002},{"w":1219,"r":0.006},{"w":1221,"r":0.008},{"w":1223,"r":-0.002},{"w":1226,"r":-0.008},{"w":1228,"r":0.001},{"w":1231,"r":-0.002},{"w":1234,"r":-0.004},{"w":1237,"r":0},{"w":1240,"r":-0.003},{"w":1243,"r":-0.005},{"w":1245,"r":-0.014},{"w":1247,"r":-0.004},{"w":1250,"r":-0.003},{"w":1253,"r":-0.002},{"w":1256,"r":-0.004},{"w":1258.5,"r":-0.003},{"w":1260.1,"r":0.013},{"w":1260.5,"r":-0.023},{"w":1261.5,"r":-0.004},{"w":1264,"r":-0.003},{"w":1267,"r":-0.002},{"w":1269.7,"r":0.013},{"w":1270.5,"r":-0.014},{"w":1272,"r":-0.003},{"w":1274,"r":-0.002},{"w":1276,"r":-0.003},{"w":1279,"r":-0.004},{"w":1282,"r":-0.002},{"w":1285,"r":-0.003},{"w":1287.5,"r":-0.014},{"w":1288.5,"r":-0.002},{"w":1291,"r":-0.004},{"w":1293,"r":0.008},{"w":1294,"r":-0.002},{"w":1297,"r":-0.003},{"w":1300,"r":-0.002},{"w":1303,"r":0.001},{"w":1306.3,"r":-0.015},{"w":1307.5,"r":0.005},{"w":1310,"r":-0.004},{"w":1312.3,"r":-0.013},{"w":1314,"r":0.005},{"w":1316,"r":-0.022},{"w":1317.4,"r":-0.024},{"w":1318.5,"r":0.017},{"w":1320,"r":-0.005},{"w":1323,"r":0.001},{"w":1326,"r":-0.003},{"w":1329,"r":-0.006},{"w":1332,"r":0},{"w":1335,"r":-0.002},{"w":1336,"r":0.028},{"w":1337,"r":-0.018},{"w":1338.5,"r":0.002},{"w":1339.9,"r":0.054},{"w":1340.1,"r":-0.052},{"w":1341,"r":0.004},{"w":1343,"r":-0.002},{"w":1346,"r":0.001},{"w":1349,"r":0.008},{"w":1350.5,"r":-0.002},{"w":1353,"r":-0.005},{"w":1355.5,"r":-0.012},{"w":1357,"r":0.003},{"w":1358.5,"r":-0.006},{"w":1360.5,"r":0.032},{"w":1361.5,"r":-0.005},{"w":1363,"r":-0.049},{"w":1364.2,"r":0.002},{"w":1366,"r":-0.006},{"w":1368,"r":0.022},{"w":1369.5,"r":-0.01},{"w":1371,"r":0.019},{"w":1372.5,"r":-0.004},{"w":1374.8,"r":-0.065},{"w":1376,"r":0.004},{"w":1378,"r":0.026},{"w":1379.4,"r":-0.012},{"w":1381,"r":0.003},{"w":1382.5,"r":-0.008},{"w":1384,"r":0.002},{"w":1386.1,"r":0.035},{"w":1387,"r":-0.008},{"w":1389,"r":0.004},{"w":1391,"r":-0.012},{"w":1392.5,"r":0.004},{"w":1394,"r":0.037},{"w":1395,"r":-0.03},{"w":1396.5,"r":0.006},{"w":1398,"r":0.029},{"w":1398.5,"r":-0.052},{"w":1400,"r":0.003},{"w":1401.5,"r":-0.004},{"w":1404.1,"r":0.0325},{"w":1405,"r":-0.002},{"w":1407,"r":0.002},{"w":1409,"r":-0.004},{"w":1411,"r":0.004},{"w":1413,"r":0.019},{"w":1414.5,"r":-0.005},{"w":1416,"r":-0.024},{"w":1417.5,"r":0.003},{"w":1419,"r":0.008},{"w":1421,"r":-0.004},{"w":1423.3,"r":-0.029},{"w":1424.5,"r":0.004},{"w":1426,"r":0.013},{"w":1427.5,"r":-0.004},{"w":1429,"r":0.003},{"w":1431,"r":-0.006},{"w":1433,"r":0.002},{"w":1434.5,"r":0.029},{"w":1435.7,"r":0.046},{"w":1436.3,"r":-0.055},{"w":1437.5,"r":0.004},{"w":1440,"r":-0.003},{"w":1443,"r":0.001},{"w":1445,"r":0.009},{"w":1446.5,"r":0.017},{"w":1447.3,"r":-0.017},{"w":1448.5,"r":0.003},{"w":1450.3,"r":0.001}],
"r4":[{"w":920.6,"r":0.022},{"w":921.2,"r":-0.01},{"w":921.8,"r":0.012},{"w":922.5,"r":-0.013},{"w":923.3,"r":0.01},{"w":924.0,"r":-0.014},{"w":924.8,"r":0.009},{"w":925.6,"r":-0.006},{"w":926.5,"r":0.008},{"w":927.4,"r":-0.01},{"w":928.3,"r":0.009},{"w":929.2,"r":-0.006},{"w":930.1,"r":0.007},{"w":931.0,"r":-0.007},{"w":932.0,"r":0.006},{"w":933.2,"r":-0.004},{"w":934.5,"r":0.007},{"w":935.8,"r":-0.002},{"w":937.0,"r":0.006},{"w":938.5,"r":0.002},{"w":940.0,"r":0.006},{"w":941.5,"r":0.002},{"w":943.0,"r":0.005},{"w":944.5,"r":0.001},{"w":946.0,"r":0.004},{"w":947.5,"r":0.002},{"w":949.0,"r":0.003},{"w":950.5,"r":0.001},{"w":952.0,"r":0.003},{"w":953.3,"r":0.005},{"w":953.8,"r":-0.001},{"w":955.0,"r":-0.002},{"w":957.0,"r":-0.003},{"w":959.0,"r":-0.005},{"w":961.0,"r":-0.007},{"w":962.5,"r":-0.008},{"w":963.3,"r":0.001},{"w":965,"r":0.002},{"w":967,"r":0},{"w":969,"r":0.003},{"w":971,"r":-0.001},{"w":973,"r":0.002},{"w":975,"r":-0.001},{"w":977,"r":0.001},{"w":980,"r":-0.001},{"w":983,"r":0.002},{"w":986,"r":0},{"w":989,"r":0.001},{"w":992,"r":-0.001},{"w":995,"r":0},{"w":998,"r":-0.001},{"w":1001,"r":0},{"w":1004,"r":-0.002},{"w":1007,"r":-0.004},{"w":1009.5,"r":-0.008},{"w":1011.0,"r":-0.012},{"w":1011.5,"r":0.013},{"w":1012.5,"r":0.015},{"w":1013.5,"r":0.019},{"w":1014.8,"r":0.022},{"w":1015.8,"r":0.024},{"w":1016.5,"r":0},{"w":1018,"r":0.001},{"w":1020,"r":-0.001},{"w":1023,"r":0.002},{"w":1026,"r":0},{"w":1029,"r":0.001},{"w":1032,"r":-0.001},{"w":1035,"r":0.001},{"w":1038,"r":-0.001},{"w":1041,"r":0.001},{"w":1044,"r":0},{"w":1047,"r":0.001},{"w":1050,"r":0.002},{"w":1053,"r":0.001},{"w":1056,"r":0.002},{"w":1059,"r":0.001},{"w":1062,"r":0.002},{"w":1065,"r":0.001},{"w":1068,"r":0.002},{"w":1071,"r":0.002},{"w":1074,"r":0.003},{"w":1077,"r":0.002},{"w":1080,"r":0.003},{"w":1082,"r":0.004},{"w":1084,"r":0.004},{"w":1084.6,"r":-0.003},{"w":1086.5,"r":-0.004},{"w":1088.3,"r":-0.004},{"w":1089.4,"r":0.002},{"w":1092,"r":0.001},{"w":1095,"r":0.002},{"w":1098,"r":0.003},{"w":1100,"r":0.003},{"w":1102,"r":0.002},{"w":1104.5,"r":0.004},{"w":1105.2,"r":0},{"w":1106.3,"r":-0.001},{"w":1109,"r":-0.004},{"w":1111,"r":-0.006},{"w":1113.6,"r":-0.009},{"w":1114.3,"r":0.001},{"w":1118,"r":0.001},{"w":1122,"r":0.001},{"w":1127,"r":0.002},{"w":1132,"r":0.001},{"w":1135.8,"r":0.005},{"w":1138,"r":0},{"w":1142,"r":-0.001},{"w":1146,"r":0},{"w":1150,"r":0},{"w":1154,"r":-0.001},{"w":1157,"r":0.002},{"w":1160,"r":0.001},{"w":1164,"r":0},{"w":1168,"r":0.001},{"w":1172,"r":0.002},{"w":1174.5,"r":-0.004},{"w":1176,"r":0.002},{"w":1180,"r":0.001},{"w":1184,"r":0.002},{"w":1188,"r":0.003},{"w":1191,"r":0.001},{"w":1193.2,"r":0.002},{"w":1193.5,"r":-0.027},{"w":1193.9,"r":0.002},{"w":1196,"r":-0.004},{"w":1198,"r":0.005},{"w":1200,"r":-0.002},{"w":1202,"r":0.004},{"w":1204,"r":-0.003},{"w":1206,"r":0.006},{"w":1208,"r":-0.002},{"w":1210,"r":0.004},{"w":1212,"r":-0.004},{"w":1213.9,"r":0.01},{"w":1215,"r":-0.003},{"w":1217,"r":0.005},{"w":1219,"r":-0.005},{"w":1221,"r":0.006},{"w":1222.5,"r":-0.007},{"w":1224,"r":0.004},{"w":1226,"r":0.011},{"w":1227.5,"r":-0.004},{"w":1229,"r":-0.008},{"w":1231,"r":-0.006},{"w":1233,"r":-0.008},{"w":1235,"r":-0.01},{"w":1237.6,"r":-0.017},{"w":1239,"r":-0.004},{"w":1241,"r":-0.008},{"w":1243,"r":-0.011},{"w":1244,"r":0.015},{"w":1245.2,"r":0.02},{"w":1246.4,"r":0.026},{"w":1247.2,"r":0.028},{"w":1248,"r":0.004},{"w":1250,"r":0.002},{"w":1252,"r":0.003},{"w":1254,"r":0.001},{"w":1256,"r":0.002},{"w":1258,"r":0.004},{"w":1260,"r":0.008},{"w":1261,"r":-0.002},{"w":1263,"r":0.002},{"w":1265,"r":-0.004},{"w":1267,"r":0.004},{"w":1269,"r":0.003},{"w":1270.5,"r":-0.008},{"w":1272,"r":0.004},{"w":1273.5,"r":0.001},{"w":1275,"r":0.002},{"w":1277,"r":-0.002},{"w":1279,"r":0.003},{"w":1281,"r":0},{"w":1283,"r":0.003},{"w":1285,"r":-0.001},{"w":1286.5,"r":0.009},{"w":1287.5,"r":-0.008},{"w":1289,"r":0.002},{"w":1291,"r":0},{"w":1293,"r":0.003},{"w":1295,"r":0},{"w":1297,"r":0.002},{"w":1299,"r":0.001},{"w":1301,"r":0.003},{"w":1303,"r":0.005},{"w":1305,"r":0.006},{"w":1306.5,"r":-0.004},{"w":1308,"r":-0.006},{"w":1310,"r":-0.008},{"w":1311.5,"r":0.017},{"w":1312.8,"r":-0.013},{"w":1314,"r":0.008},{"w":1315.5,"r":-0.005},{"w":1317,"r":0.012},{"w":1318.5,"r":0.013},{"w":1319.5,"r":-0.008},{"w":1321,"r":0.002},{"w":1323,"r":0.006},{"w":1325,"r":-0.001},{"w":1327,"r":0.002},{"w":1329.5,"r":0.005},{"w":1331,"r":0},{"w":1333,"r":0.002},{"w":1335,"r":-0.001},{"w":1336.2,"r":-0.018},{"w":1337.5,"r":0.004},{"w":1339,"r":0.01},{"w":1339.9,"r":0.036},{"w":1340.3,"r":-0.026},{"w":1341.5,"r":0.004},{"w":1343,"r":-0.002},{"w":1345,"r":0.002},{"w":1347,"r":0},{"w":1349,"r":0.002},{"w":1351,"r":-0.001},{"w":1353,"r":0.003},{"w":1354.6,"r":0.0175},{"w":1355.5,"r":-0.004},{"w":1357.4,"r":-0.018},{"w":1358.5,"r":0.003},{"w":1360.2,"r":0.0175},{"w":1361.5,"r":-0.004},{"w":1363,"r":0.054},{"w":1363.5,"r":-0.026},{"w":1365,"r":0.004},{"w":1366.5,"r":-0.004},{"w":1368,"r":0.006},{"w":1369.5,"r":-0.01},{"w":1371,"r":0.004},{"w":1373,"r":-0.006},{"w":1374.8,"r":0.038},{"w":1375.3,"r":-0.033},{"w":1376.5,"r":0.003},{"w":1378,"r":-0.005},{"w":1379,"r":0.017},{"w":1380.5,"r":-0.004},{"w":1382,"r":0.002},{"w":1384,"r":-0.006},{"w":1385.5,"r":0.003},{"w":1386.3,"r":-0.026},{"w":1388,"r":0.002},{"w":1390,"r":-0.004},{"w":1391.5,"r":0.0175},{"w":1393.5,"r":-0.022},{"w":1395,"r":0.005},{"w":1396.5,"r":-0.028},{"w":1398,"r":0.022},{"w":1399,"r":-0.03},{"w":1400.5,"r":0.002},{"w":1402,"r":-0.004},{"w":1403.5,"r":0.003},{"w":1404.1,"r":-0.04},{"w":1404.8,"r":0.026},{"w":1406,"r":-0.002},{"w":1408,"r":0.002},{"w":1410,"r":-0.003},{"w":1411.5,"r":0.02},{"w":1413,"r":-0.004},{"w":1415,"r":0.003},{"w":1416.2,"r":-0.018},{"w":1417.5,"r":0.002},{"w":1419.4,"r":0.024},{"w":1420.5,"r":-0.018},{"w":1422,"r":0.003},{"w":1423.3,"r":0.018},{"w":1424.5,"r":-0.015},{"w":1426,"r":0.003},{"w":1427.5,"r":0.015},{"w":1429,"r":-0.015},{"w":1430.5,"r":0.012},{"w":1432,"r":-0.004},{"w":1433.5,"r":0.003},{"w":1434.5,"r":-0.02},{"w":1436.8,"r":0.027},{"w":1437.8,"r":-0.006},{"w":1440,"r":0.002},{"w":1442,"r":-0.003},{"w":1444,"r":-0.007},{"w":1445.5,"r":0.004},{"w":1447,"r":-0.015},{"w":1448.5,"r":0.01},{"w":1450.3,"r":0.002}]
},
"vconcat":[
 {
  "width":1814,"height":901,
  "title":{"text":"acetylsalicylic acid on dark blue leatherette","font":"DejaVu Sans","fontSize":59,"fontWeight":"normal","color":"black","offset":-12,"anchor":"middle","frame":"group"},
  "layer":[
   {"data":{"name":"scan"},"mark":{"type":"line","strokeWidth":8,"clip":true},
    "encoding":{
     "x":{"field":"w","type":"quantitative","scale":{"domain":[920.6,1450.3],"nice":false,"zero":false},"axis":null},
     "y":{"field":"i","type":"quantitative","scale":{"domain":[0,0.07],"nice":false,"zero":false},"axis":{"title":"Intensity (a.u.)","orient":"left","values":[0,0.01,0.02,0.03,0.04,0.05,0.06,0.07],"format":".2f","titlePadding":58}},
     "color":{"datum":"scan 4","type":"nominal","scale":{"domain":["scan 1","scan 2","scan 3","scan 4","FTIR"],"range":["#1f77b4","#ff7f0e","#2ca02c","#d62728","#000000"]},
      "legend":{"title":null,"orient":"none","legendX":1835,"legendY":963,"symbolType":"M-1,0H3","symbolSize":3025,"symbolStrokeWidth":8,"labelFontSize":50,"labelFont":"DejaVu Sans","labelColor":"black","labelOffset":84,"labelLimit":600,"padding":14,"rowPadding":18,"strokeColor":"#cccccc","cornerRadius":8,"fillColor":"white"}}
    }},
   {"data":{"name":"ftir"},"mark":{"type":"line","strokeWidth":8,"clip":true},
    "encoding":{
     "x":{"field":"w","type":"quantitative","scale":{"domain":[920.6,1450.3],"nice":false,"zero":false},"axis":null},
     "y":{"field":"t","type":"quantitative","scale":{"domain":[0,1],"nice":false,"zero":false},"axis":{"title":"FTIR Transmission (%)","orient":"right","values":[0,0.2,0.4,0.6,0.8,1],"format":".1f","titleAngle":270,"titleBaseline":"top","titlePadding":14}},
     "color":{"datum":"FTIR","type":"nominal"}
    }},
   {"data":{"name":"bands"},"mark":{"type":"rect","color":"#005f8c","opacity":0.2},
    "encoding":{"x":{"field":"a","type":"quantitative","scale":{"domain":[920.6,1450.3],"nice":false,"zero":false},"axis":null},"x2":{"field":"b"}}}
  ],
  "resolve":{"scale":{"y":"independent"}}
 },
 {
  "width":1814,"height":451,
  "encoding":{
   "x":{"field":"w","type":"quantitative","scale":{"domain":[920.6,1450.3],"nice":false,"zero":false},"axis":{"title":"Wavenumber (cm⁻¹)","values":[1000,1100,1200,1300,1400],"format":"d"}},
   "y":{"field":"r","type":"quantitative","scale":{"domain":[-0.07,0.07],"nice":false,"zero":false},"axis":{"title":"Residuals (%)","values":[-0.05,0,0.05],"format":".2f","titlePadding":14}}
  },
  "layer":[
   {"data":{"name":"r1"},"mark":{"type":"line","strokeWidth":8,"clip":true},"encoding":{"color":{"datum":"scan 1","type":"nominal"}}},
   {"data":{"name":"r2"},"mark":{"type":"line","strokeWidth":8,"clip":true},"encoding":{"color":{"datum":"scan 2","type":"nominal"}}},
   {"data":{"name":"r3"},"mark":{"type":"line","strokeWidth":8,"clip":true},"encoding":{"color":{"datum":"scan 3","type":"nominal"}}},
   {"data":{"name":"r4"},"mark":{"type":"line","strokeWidth":8,"clip":true},"encoding":{"color":{"datum":"scan 4","type":"nominal"}}}
  ]
 }
],
"resolve":{"scale":{"color":"shared"}}
}
